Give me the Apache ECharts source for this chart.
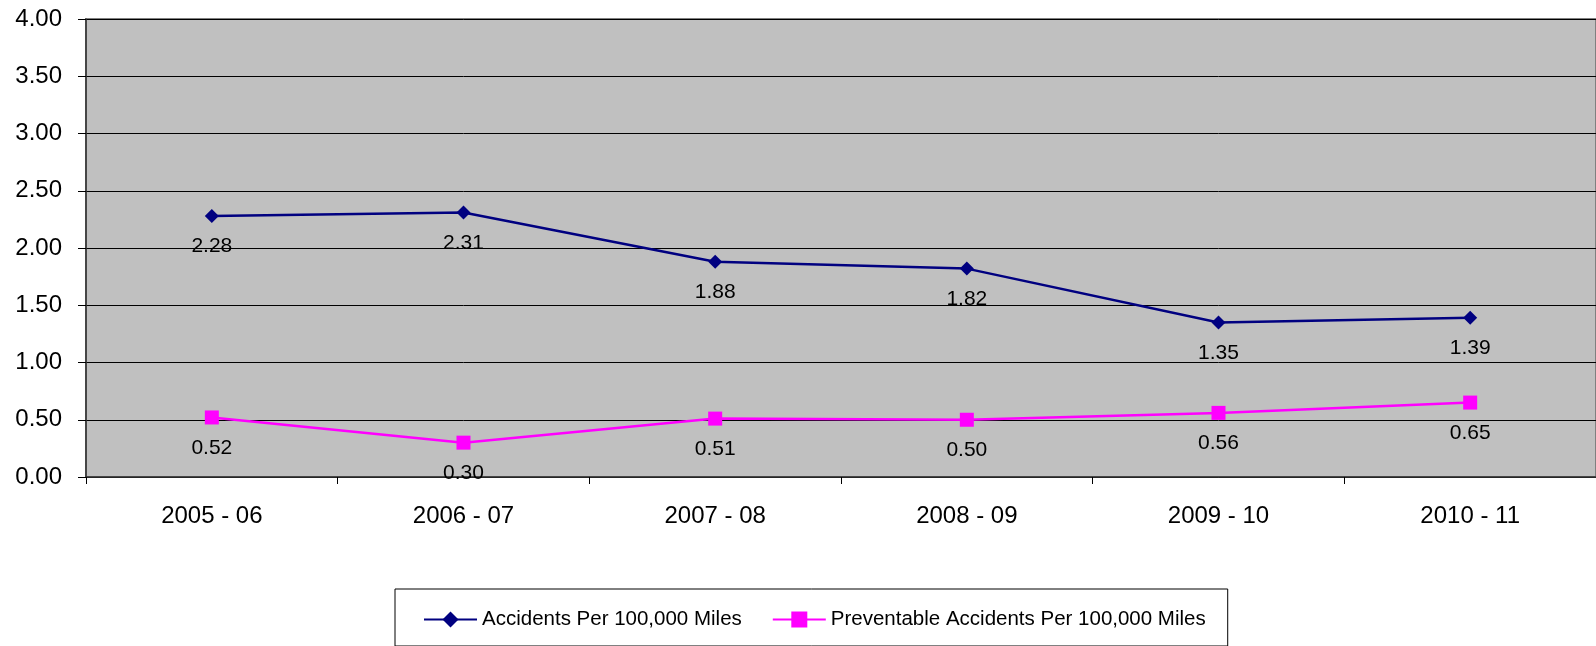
<!DOCTYPE html>
<html>
<head>
<meta charset="utf-8">
<style>
  html, body { margin: 0; padding: 0; background: #ffffff; }
  #chart { width: 1596px; height: 646px; }
</style>
<script src="https://cdn.jsdelivr.net/npm/echarts@6/dist/echarts.min.js"></script>
</head>
<body>
<div id="chart"></div>
<script>
// Fiscal years on the category axis
const categories = ['2005 - 06', '2006 - 07', '2007 - 08', '2008 - 09', '2009 - 10', '2010 - 11'];
// Rates per 100,000 miles
const accidents = [2.28, 2.31, 1.88, 1.82, 1.35, 1.39];
const preventable = [0.52, 0.30, 0.51, 0.50, 0.56, 0.65];
const seriesNames = ['Accidents Per 100,000 Miles', 'Preventable Accidents Per 100,000 Miles'];

const FONT = 'Arial, "Liberation Sans", sans-serif';

const chart = echarts.init(document.getElementById('chart'), null, { renderer: 'canvas' });

function dataLabel() {
  return {
    show: true,
    position: 'bottom',
    distance: 13,
    color: '#000',
    fontFamily: FONT,
    fontSize: 21,
    formatter: p => p.value.toFixed(2)
  };
}

chart.setOption({
  animation: false,
  backgroundColor: '#ffffff',
  grid: {
    left: 86, right: -3, top: 19, bottom: 169,
    show: true,
    backgroundColor: '#c0c0c0',
    borderColor: '#808080',
    borderWidth: 2
  },
  xAxis: {
    type: 'category',
    data: categories,
    boundaryGap: true,
    axisLine: { show: true, lineStyle: { color: '#333', width: 1.5 } },
    axisTick: { show: true, interval: 0, length: 7, lineStyle: { color: '#000' } },
    axisLabel: { color: '#000', fontFamily: FONT, fontSize: 24, margin: 27, interval: 0 },
    splitLine: { show: false }
  },
  yAxis: {
    type: 'value',
    min: 0, max: 4, interval: 0.5,
    axisLine: { show: true, lineStyle: { color: '#333', width: 1.5 } },
    axisTick: { show: true, length: 8, lineStyle: { color: '#000' } },
    axisLabel: { color: '#000', fontFamily: FONT, fontSize: 24, margin: 24, formatter: v => v.toFixed(2) },
    splitLine: { show: true, lineStyle: { color: '#000', width: 1 } }
  },
  legend: {
    data: seriesNames,
    left: 395,
    top: 589,
    orient: 'horizontal',
    itemWidth: 53,
    itemHeight: 20,
    itemGap: 30,
    padding: [20, 22, 16, 28],
    borderColor: '#000',
    borderWidth: 1,
    textStyle: { color: '#000', fontFamily: FONT, fontSize: 20.5 }
  },
  series: [
    {
      name: seriesNames[0],
      type: 'line',
      data: accidents,
      color: '#000080',
      symbol: 'diamond',
      symbolSize: 14,
      showAllSymbol: true,
      lineStyle: { color: '#000080', width: 2.5 },
      itemStyle: { color: '#000080' },
      label: dataLabel()
    },
    {
      name: seriesNames[1],
      type: 'line',
      data: preventable,
      color: '#ff00ff',
      symbol: 'rect',
      symbolSize: 14,
      showAllSymbol: true,
      lineStyle: { color: '#ff00ff', width: 2.5 },
      itemStyle: { color: '#ff00ff' },
      label: dataLabel()
    }
  ]
});
</script>
</body>
</html>
